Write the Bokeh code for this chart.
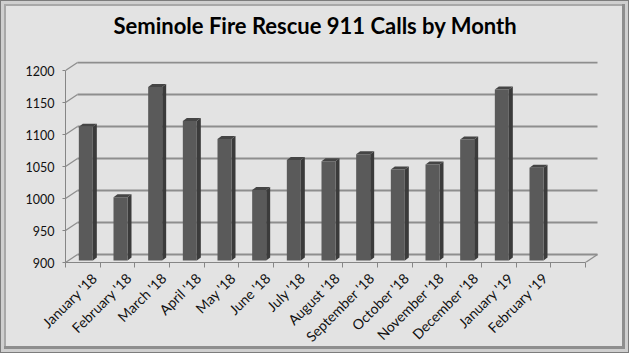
import math
from bokeh.plotting import figure
from bokeh.models import Range1d, LinearAxis, FixedTicker, Title
from bokeh.embed import file_html
from bokeh.resources import INLINE

# ---------------- data ----------------
months = ["January '18", "February '18", "March '18", "April '18", "May '18",
          "June '18", "July '18", "August '18", "September '18", "October '18",
          "November '18", "December '18", "January '19", "February '19"]
calls = [1109, 999, 1171, 1118, 1090, 1010, 1057, 1055, 1066, 1042, 1050, 1089, 1167, 1045]
y_ticks = [900, 950, 1000, 1050, 1100, 1150, 1200]
title_text = "Seminole Fire Rescue 911 Calls by Month"

# ---------------- layout / projection constants (px) ----------------
W, H = 629, 353
FL, FR, FT, FB = 65, 599, 61, 262      # frame edges on the canvas
N_SLOTS = 15                            # 14 months + one empty slot
SLOT_PX = 520.0 / N_SLOTS               # px per category slot
Y_PX = 0.64                             # px per call
BASE = 900
BAR_BASE_PX = 260                       # where the bar plane's 900 sits
BACK_BASE_PX = 254
BACK_SHIFT_PX = 12

x_end = (FR - FL) / SLOT_PX
y_start = BASE - (FB - BAR_BASE_PX) / Y_PX
y_end = BASE + (BAR_BASE_PX - FT) / Y_PX

front_dy = -(FB - BAR_BASE_PX) / Y_PX
back_dy = (BAR_BASE_PX - BACK_BASE_PX) / Y_PX
back_dx = BACK_SHIFT_PX / SLOT_PX
bar_dx = 3.0 / SLOT_PX
bar_w = 14.0 / SLOT_PX
depth_dx = 4.0 / SLOT_PX
depth_dy = 3.0 / Y_PX
label_shift = 0.33

GRID = "#8e8e8e"
AXIS = "#868686"

p = figure(width=W, height=H, output_backend="svg", toolbar_location=None,
           x_range=Range1d(0, x_end), y_range=Range1d(y_start, y_end),
           x_axis_location=None, y_axis_location=None,
           min_border_left=FL, min_border_right=W - FR,
           min_border_top=FT, min_border_bottom=H - FB)
p.xgrid.visible = False
p.ygrid.visible = False
p.outline_line_color = None
p.background_fill_color = "#e3e3e3"
p.border_fill_alpha = 0
p.styles = {
    "background-color": "#e3e3e3",
    "box-shadow": "inset 0 0 0 1px #7c7c7c, inset 0 0 0 4px #cfcfcf, "
                  "inset -2px -2px 0 5px #8e8e8e, inset 0 0 0 6px #a8a8a8",
}

# ---------------- walls / gridlines ----------------
p.segment(x0=[back_dx] * len(y_ticks), y0=[v + back_dy for v in y_ticks],
          x1=[N_SLOTS + back_dx] * len(y_ticks), y1=[v + back_dy for v in y_ticks],
          line_color=GRID, line_width=1.8)
p.segment(x0=[0] * len(y_ticks), y0=[v + front_dy for v in y_ticks],
          x1=[back_dx] * len(y_ticks), y1=[v + back_dy for v in y_ticks],
          line_color=GRID, line_width=1.3)
p.segment(x0=[N_SLOTS], y0=[BASE + front_dy], x1=[N_SLOTS + back_dx], y1=[BASE + back_dy],
          line_color=GRID, line_width=1.3)

# ---------------- 3-D bars ----------------
xc = [i + 0.5 + bar_dx for i in range(len(calls))]
xl = [x - bar_w / 2 for x in xc]
xr = [x + bar_w / 2 for x in xc]
p.patches(xs=[[r, r + depth_dx, r + depth_dx, r] for r in xr],
          ys=[[BASE, BASE + depth_dy, v + depth_dy, v] for v in calls],
          fill_color="#3b3b3b", line_color=None)
p.patches(xs=[[l, l + depth_dx, r + depth_dx, r] for l, r in zip(xl, xr)],
          ys=[[v, v + depth_dy, v + depth_dy, v] for v in calls],
          fill_color="#454545", line_color=None)
p.vbar(x=xc, width=bar_w, bottom=BASE, top=calls, fill_color="#5a5a5a", line_color=None)

# ---------------- axes ----------------
p.extra_y_ranges = {"front": Range1d(y_start - front_dy, y_end - front_dy)}
yaxis = LinearAxis(y_range_name="front", ticker=FixedTicker(ticks=y_ticks),
                   bounds=(y_ticks[0], y_ticks[-1]))
yaxis.axis_line_color = AXIS
yaxis.major_tick_line_color = AXIS
yaxis.major_tick_in = 0
yaxis.major_tick_out = 3
yaxis.minor_tick_line_color = None
yaxis.major_label_standoff = 8
yaxis.major_label_text_font = "Lato"
yaxis.major_label_text_font_size = "12.5px"
yaxis.major_label_text_color = "#111111"
p.add_layout(yaxis, "left")

p.extra_x_ranges = {"lbl": Range1d(-label_shift, x_end - label_shift)}
centers = [i + 0.5 for i in range(len(months))]
xaxis = LinearAxis(x_range_name="lbl",
                   ticker=FixedTicker(ticks=centers,
                                      minor_ticks=[k - label_shift for k in range(N_SLOTS + 1)]),
                   bounds=(-label_shift, N_SLOTS - label_shift))
xaxis.major_label_overrides = {c: m for c, m in zip(centers, months)}
xaxis.axis_line_color = AXIS
xaxis.major_tick_line_color = None
xaxis.major_tick_in = 0
xaxis.major_tick_out = 0
xaxis.minor_tick_line_color = AXIS
xaxis.minor_tick_in = 0
xaxis.minor_tick_out = 5
xaxis.major_label_orientation = math.pi / 4
xaxis.major_label_standoff = 8
xaxis.major_label_text_font = "Lato"
xaxis.major_label_text_font_size = "14px"
xaxis.major_label_text_color = "#111111"
p.add_layout(xaxis, "below")

# ---------------- title ----------------
spacer = Title(text=" ", align="left", standoff=5, text_font_size="10px")
title = Title(text=title_text, align="left", offset=48, standoff=10,
              text_font="Lato", text_font_style="bold", text_font_size="22px",
              text_color="#000000")
p.add_layout(spacer, "above")
p.add_layout(title, "above")

open("out.html", "w").write(file_html(p, INLINE))
